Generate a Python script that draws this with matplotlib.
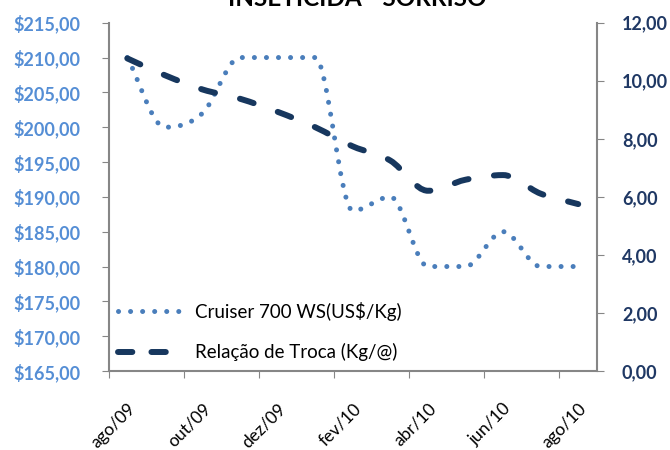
import matplotlib
matplotlib.use("Agg")
import matplotlib.pyplot as plt
from matplotlib.path import Path
from matplotlib.patches import PathPatch
from matplotlib.lines import Line2D
import numpy as np

plt.rcParams['font.family'] = ['Lato', 'DejaVu Sans']

months = ["ago/09", "set/09", "out/09", "nov/09", "dez/09", "jan/10", "fev/10",
          "mar/10", "abr/10", "mai/10", "jun/10", "jul/10", "ago/10"]
cruiser = [210, 200, 202, 210, 210, 210, 188, 190, 180, 180, 185, 180, 180]
relacao = [10.77, 10.19, 9.70, 9.38, 8.93, 8.40, 7.74, 7.25, 6.21, 6.59, 6.75, 6.11, 5.75]
left_ticks = [165, 170, 175, 180, 185, 190, 195, 200, 205, 210, 215]
right_ticks = [0, 2, 4, 6, 8, 10, 12]

title = "INSETICIDA - SORRISO"
label_cruiser = "Cruiser 700 WS(US$/Kg)"
label_relacao = "Relação de Troca (Kg/@)"

c_dot = "#4A7EBB"
c_dash = "#17375E"
c_left = "#558ED5"
c_right = "#1F3864"
c_axis = "#868686"

W, H = 670, 450
fig = plt.figure(figsize=(6.7, 4.5), dpi=100)
ax = fig.add_axes([108.5 / W, 1 - 371 / H, (597 - 108.5) / W, (371 - 22.7) / H])
ax2 = ax.twinx()


def smooth_path(xs, ys):
    """Cubic Bezier path through the points (tangents flattened at extrema)."""
    pts = np.column_stack([xs, ys]).astype(float)
    n = len(pts)
    tang = np.zeros(n)
    for i in range(n):
        if i == 0 or i == n - 1:
            tang[i] = 0.0 if n < 2 else (pts[min(i + 1, n - 1), 1] - pts[max(i - 1, 0), 1]) / (
                pts[min(i + 1, n - 1), 0] - pts[max(i - 1, 0), 0])
            continue
        s1 = pts[i, 1] - pts[i - 1, 1]
        s2 = pts[i + 1, 1] - pts[i, 1]
        if s1 * s2 <= 0:
            tang[i] = 0.0
        else:
            tang[i] = (pts[i + 1, 1] - pts[i - 1, 1]) / (pts[i + 1, 0] - pts[i - 1, 0])
    verts = [pts[0]]
    codes = [Path.MOVETO]
    for i in range(n - 1):
        dx = pts[i + 1, 0] - pts[i, 0]
        c1 = (pts[i, 0] + dx / 3, pts[i, 1] + tang[i] * dx / 3)
        c2 = (pts[i + 1, 0] - dx / 3, pts[i + 1, 1] - tang[i + 1] * dx / 3)
        verts += [c1, c2, pts[i + 1]]
        codes += [Path.CURVE4] * 3
    return Path(verts, codes)


x = np.arange(len(months))
dot_ls = (0, (0.01, 2.4))
dash_ls = (0, (2.4, 4.3))

p1 = PathPatch(smooth_path(x, cruiser), facecolor='none', edgecolor=c_dot,
               linewidth=3.6, linestyle=dot_ls, capstyle='round', zorder=3)
ax.add_patch(p1)
p2 = PathPatch(smooth_path(x, relacao), facecolor='none', edgecolor=c_dash,
               linewidth=4.3, linestyle=dash_ls, capstyle='round', zorder=4)
ax2.add_patch(p2)

ax.set_xlim(-0.5, len(months) - 0.5)
ax.set_ylim(165, 215)
ax2.set_ylim(0, 12)

ax.set_yticks(left_ticks)
ax.set_yticklabels(["$" + f"{v:.2f}".replace(".", ",") for v in left_ticks],
                   color=c_left, fontweight='bold', fontsize=13)
ax2.set_yticks(right_ticks)
ax2.set_yticklabels([f"{v:.2f}".replace(".", ",") for v in right_ticks],
                    color=c_right, fontweight='bold', fontsize=13)

ax.set_xticks(x[::2] - 0.5)
ax.set_xticklabels([])
ax.set_xticks(x[::2], minor=True)
ax.set_xticklabels(months[::2], minor=True, rotation=45, ha='right',
                   rotation_mode='anchor', fontsize=12.5, color='#000000')
ax.tick_params(axis='x', which='minor', length=0, pad=21)
ax.tick_params(axis='x', which='major', length=5, color=c_axis, direction='out')
ax.tick_params(axis='y', length=5, color=c_axis, direction='out', pad=15)
ax2.tick_params(axis='y', length=5, color=c_axis, direction='out', pad=13)

for a in (ax, ax2):
    a.spines['top'].set_visible(False)
    for s in ('left', 'right', 'bottom'):
        a.spines[s].set_color(c_axis)
        a.spines[s].set_linewidth(1.5)
ax2.spines['left'].set_visible(False)
ax2.spines['bottom'].set_visible(False)
ax.spines['right'].set_visible(False)

h1 = Line2D([], [], color=c_dot, linewidth=3.6, linestyle=dot_ls,
            dash_capstyle='round', solid_capstyle='round')
h2 = Line2D([], [], color=c_dash, linewidth=4.3, linestyle=(0, (2.4, 3.2)),
            dash_capstyle='round')
leg = ax2.legend([h1, h2], [label_cruiser, label_relacao], loc='center left',
                 bbox_to_anchor=(118 / W, 1 - 331.5 / H), bbox_transform=fig.transFigure,
                 frameon=False, borderpad=0, borderaxespad=0, handlelength=3.4,
                 handletextpad=0.7, labelspacing=1.2, fontsize=13.5)

fig.text(357 / W, 1 - 6 / H, title, ha='center', va='baseline',
         fontsize=17.5, fontweight='bold', color='#000000')

fig.savefig("out.png", dpi=100)
